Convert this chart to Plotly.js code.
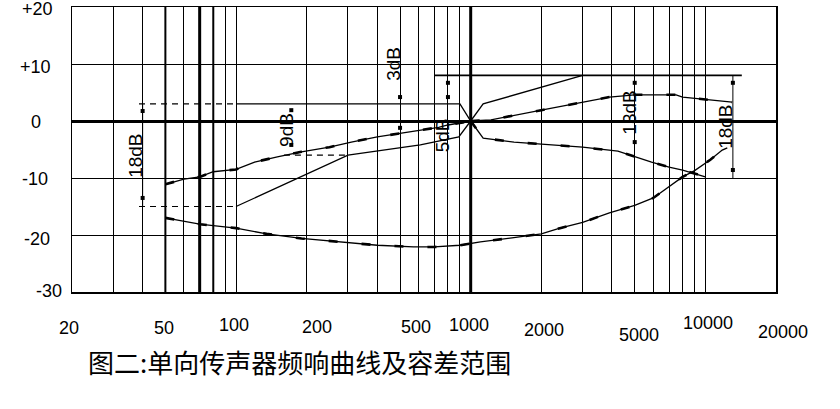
<!DOCTYPE html>
<html>
<head>
<meta charset="utf-8">
<script src="https://cdn.plot.ly/plotly-3.0.1.min.js"></script>
<style>
  html, body { margin: 0; padding: 0; background: #fff; }
  #chart { width: 840px; height: 409px; }
</style>
</head>
<body>
<div id="chart"></div>
<script>
// ---------------- data ----------------
// Response curve A (low end rising to 0 dB at 1 kHz)
const freqA = [50, 60, 70, 80, 100, 120, 150, 190, 250, 310, 400, 560, 730, 800, 1000];
const dbA   = [-11.1, -10.2, -9.8, -8.9, -8.5, -7.2, -6.3, -5.4, -4.6, -3.7, -2.8, -1.9, -1.1, -0.7, 0];

// Response curve B (rising above 1 kHz)
const freqB = [1000, 1220, 2000, 3000, 3900, 5000, 7500, 8000, 9000, 10000, 13000];
const dbB   = [0, 0.2, 1.9, 3.3, 4.2, 4.6, 4.6, 4.2, 4.0, 3.8, 3.3];

// Lower tolerance above 1 kHz (falling to -10 dB at 10 kHz)
const freqC = [1000, 1130, 1530, 2150, 3000, 4240, 5000, 5900, 7000, 8000, 10000];
const dbC   = [0, -3.0, -3.7, -4.2, -4.6, -5.3, -6.3, -7.2, -8.1, -8.6, -9.8];

// Response curve D (lowest curve)
const freqD = [50, 70, 100, 135, 190, 290, 400, 570, 700, 900, 1100, 1500, 2000, 2400, 3000, 3900, 5000, 6000, 7000, 8000, 9000, 10500, 11800, 12400];
const dbD   = [-17, -18.1, -18.8, -19.8, -20.6, -21.3, -21.8, -22.1, -22.1, -21.8, -21.2, -20.5, -19.8, -18.8, -17.8, -16.1, -14.8, -13.5, -11.6, -9.8, -8.7, -6.8, -5.1, -4.7];

// Upper tolerance line
const freqUpper = [100, 900, 1000, 1130, 3000];
const dbUpper   = [3, 3, 0, 3, 8];
// Lower tolerance line (below 1 kHz)
const freqLower = [100, 300, 610, 890, 1000];
const dbLower   = [-15, -6, -4.2, -2.8, 0];

// Top +8 dB limit line
const freqTop = [700, 14300];
const dbTop   = [8, 8];

// Dashed extension lines
const freqDashUpper = [38.6, 100];  const dbDashUpper = [3, 3];
const freqDashLower = [38.6, 100];  const dbDashLower = [-15, -15];
const freqDash9     = [160, 300];   const dbDash9     = [-6, -6];

// Dimension verticals
const freqDimLeft  = [40, 40];       const dbDimLeft  = [3, -15];
const freqDimRight = [13100, 13100]; const dbDimRight = [8, -10];

// Dimension arrow dots
const dotFreq = [40, 40, 172, 172, 500, 500, 800, 800, 5000, 5000, 13100, 13100];
const dotDb   = [1.75, -13.5, 1.9, -4.2, 4.2, -1.2, 6.7, 4.2, 6.7, -3.7, 6.7, -8.6];

// Dimension labels
const dimText = ["18dB", "9dB", "3dB", "5dB", "13dB", "18dB"];
const dimFreq = [37.5, 163, 466, 755, 4710, 12230];
const dimDb   = [-6.1, -1.6, 10, -2.5, 1.4, -1.05];

// Heavy vertical grid lines
const heavyFreq  = [50, 70, 80, 1000];

// Tick labels
const xTickVals = [20, 50, 100, 200, 500, 1000, 2000, 5000, 10000, 20000];
const xTickText = ["20", "50", "100", "200", "500", "1000", "2000", "5000", "10000", "20000"];
const yTickVals = [20, 10, 0, -10, -20, -30];
const yTickText = ["+20", "+10", "0", "-10", "-20", "-30"];

const titleText = "图二:单向传声器频响曲线及容差范围";

// ---------------- styling / placement ----------------
const heavyWidth = [2, 3, 2, 3];
const xTickShiftX = [-3, -1, -2, 10, 16, -2, 3, 4, 3, 7];
const xTickShiftY = [-36, -36, -33, -35, -35, -33, -38, -43, -31, -40];
const yTickShiftX = [-35, -37, -36.5, -37, -35, -23];
const yTickShiftY = [-2, -3, -1, -1, -4, 1];

const numFont = "Liberation Sans, Arial, sans-serif";
const line = (w, dash) => ({ color: "#000", width: w, dash: dash || "solid" });

const traces = [];
heavyFreq.forEach((f, i) => traces.push({
  x: [f, f], y: [-30, 20], mode: "lines", line: line(heavyWidth[i]), hoverinfo: "skip"
}));
// curves: thin line plus sparse heavy segments (as in the hand-drawn original)
[[freqA, dbA], [freqB, dbB], [freqC, dbC], [freqD, dbD]].forEach(([fx, dy]) => {
  traces.push({ x: fx, y: dy, mode: "lines", line: line(1.3) });
  traces.push({ x: fx, y: dy, mode: "lines", line: line(2.6, "9px,24px") });
});
traces.push({ x: freqUpper, y: dbUpper, mode: "lines", line: line(1.3) });
traces.push({ x: freqLower, y: dbLower, mode: "lines", line: line(1.3) });
traces.push({ x: freqTop, y: dbTop, mode: "lines", line: line(1.6) });
traces.push({ x: freqDashUpper, y: dbDashUpper, mode: "lines", line: line(1.2, "6px,5px") });
traces.push({ x: freqDashLower, y: dbDashLower, mode: "lines", line: line(1.2, "6px,5px") });
traces.push({ x: freqDash9, y: dbDash9, mode: "lines", line: line(1.2, "6px,5px") });
traces.push({ x: freqDimLeft, y: dbDimLeft, mode: "lines", line: line(1) });
traces.push({ x: freqDimRight, y: dbDimRight, mode: "lines", line: line(1) });
traces.push({ x: dotFreq, y: dotDb, mode: "markers",
  marker: { symbol: "square", size: 4, color: "#000" } });

const annotations = [];
xTickVals.forEach((v, i) => annotations.push({
  x: Math.log10(v), xref: "x", y: 0, yref: "paper",
  text: xTickText[i], showarrow: false, xanchor: "center", yanchor: "middle",
  xshift: xTickShiftX[i], yshift: xTickShiftY[i],
  font: { family: numFont, size: 18, color: "#000" }
}));
yTickVals.forEach((v, i) => annotations.push({
  x: 0, xref: "paper", y: v, yref: "y",
  text: yTickText[i], showarrow: false, xanchor: "center", yanchor: "middle",
  xshift: yTickShiftX[i], yshift: yTickShiftY[i],
  font: { family: numFont, size: 18, color: "#000" }
}));
dimText.forEach((t, i) => annotations.push({
  x: Math.log10(dimFreq[i]), xref: "x", y: dimDb[i], yref: "y",
  text: t, showarrow: false, textangle: -90, xanchor: "center", yanchor: "middle",
  font: { family: numFont, size: 19, color: "#000" }
}));

const layout = {
  width: 840, height: 409,
  margin: { l: 72, r: 64, t: 7, b: 117, pad: 0 },
  paper_bgcolor: "#fff", plot_bgcolor: "#fff",
  showlegend: false,
  title: {
    text: titleText, x: 88 / 840, xanchor: "left", xref: "container",
    y: (409 - 364) / 409, yanchor: "middle", yref: "container",
    font: { family: "Noto Sans CJK SC, sans-serif", size: 26, color: "#000" }
  },
  xaxis: {
    type: "log", range: [Math.log10(20), Math.log10(20000)],
    dtick: "D1", showticklabels: false, ticks: "",
    showgrid: true, gridcolor: "#000", gridwidth: 1,
    showline: true, linecolor: "#000", linewidth: 1.5, mirror: true,
    zeroline: false, fixedrange: true
  },
  yaxis: {
    range: [-30, 20], dtick: 10, showticklabels: false, ticks: "",
    showgrid: true, gridcolor: "#000", gridwidth: 1,
    showline: true, linecolor: "#000", linewidth: 1.5, mirror: true,
    zeroline: true, zerolinecolor: "#000", zerolinewidth: 3, fixedrange: true
  },
  annotations: annotations
};

Plotly.newPlot("chart", traces, layout, { staticPlot: true, displayModeBar: false });
</script>
</body>
</html>
